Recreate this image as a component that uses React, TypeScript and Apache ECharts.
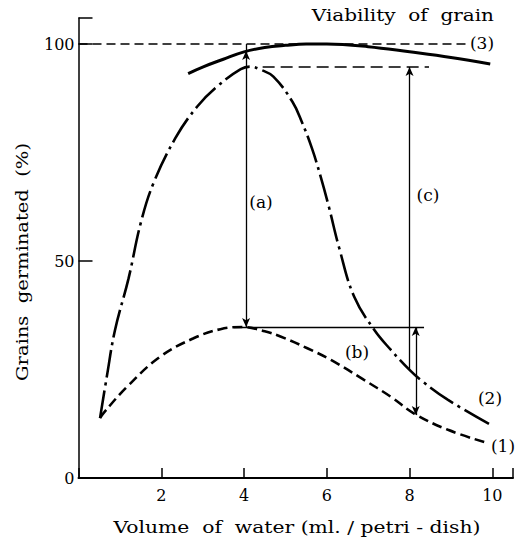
import React, { useEffect, useRef } from "react";
import * as echarts from "echarts";

// Curve (1): dashed
const curve1: [number, number][] = [
  [0.52, 13.8], [0.6, 14.9], [1.17, 21], [1.98, 28], [2.78, 32.2], [3.43, 34.3],
  [3.96, 34.8], [4.5, 33.8], [4.88, 32.6], [5.53, 29.9], [6.1, 27.2], [6.9, 22.6],
  [7.55, 18.7], [8.12, 14.8], [8.93, 11.1], [9.9, 8],
];
// Curve (2): dash-dot
const curve2: [number, number][] = [
  [0.52, 13.8], [0.69, 23.7], [0.88, 34], [1.21, 46], [1.5, 58.6], [1.81, 67.9],
  [2.34, 78.3], [2.87, 85.6], [3.35, 90.2], [3.92, 94.2], [4.16, 94.8], [4.4, 94.1],
  [4.71, 92.5], [5.17, 86.7], [5.4, 82], [5.64, 76], [5.85, 69.5], [6.05, 62.5],
  [6.3, 53], [6.66, 41.8], [7.15, 34.1], [7.55, 29.5], [8.0, 24.9], [8.32, 22.2],
  [8.93, 18], [9.93, 12.4],
];
// Curve (3): solid, viability of grain
const curve3: [number, number][] = [
  [2.65, 93.2], [3, 94.7], [3.5, 96.5], [4, 98.2], [4.5, 99.2], [5, 99.7],
  [5.5, 100], [6, 100], [7, 99.4], [8, 98.2], [9, 96.9], [9.95, 95.4],
];

const xTicks = [0, 2, 4, 6, 8, 10];
const yTicks = [0, 50, 100];

const FONT = "DejaVu Serif";

export default function App() {
  const ref = useRef<HTMLDivElement>(null);
  useEffect(() => {
    if (!ref.current) return;
    const chart = echarts.init(ref.current, null, { renderer: "svg" });
    const black = "#000";
    const seg = (a: [number, number], b: [number, number], s1: string, s2: string, type: any, width = 1.3) => [
      { coord: a, symbol: s1, lineStyle: { type, width, color: black } },
      { coord: b, symbol: s2 },
    ];
    const txt = (x: number, y: number, text: string, size: number, align = "center", sx = 1, extra: any = {}) => ({
      type: "text",
      x,
      y,
      scaleX: sx,
      ...extra,
      style: { text, font: `${size}px '${FONT}'`, fill: black, align, verticalAlign: "middle" },
    });
    chart.setOption({
      animation: false,
      grid: { left: 78.5, right: 12, top: 18, bottom: 68 },
      xAxis: {
        type: "value",
        min: 0,
        max: 10.5,
        interval: 2,
        splitLine: { show: false },
        axisLine: { lineStyle: { color: black, width: 2 } },
        axisTick: { inside: true, length: 10, lineStyle: { color: black, width: 1.5 } },
        axisLabel: {
          color: black,
          fontFamily: FONT,
          fontSize: 16,
          margin: 9,
          formatter: (v: number) => (xTicks.includes(v) && v !== 0 ? String(v) : ""),
        },
      },
      yAxis: {
        type: "value",
        min: 0,
        max: 106,
        interval: 50,
        splitLine: { show: false },
        axisLine: { lineStyle: { color: black, width: 1.5 } },
        axisTick: { inside: true, length: 14, lineStyle: { color: black, width: 1.5 } },
        axisLabel: {
          color: black,
          fontFamily: FONT,
          fontSize: 16,
          margin: 4,
          formatter: (v: number) => (yTicks.includes(v) ? String(v) : ""),
        },
      },
      series: [
        {
          type: "line",
          data: curve1,
          smooth: 0.4,
          symbol: "none",
          lineStyle: { color: black, width: 2.6, type: [10, 5] },
        },
        {
          type: "line",
          data: curve2,
          smooth: 0.4,
          symbol: "none",
          lineStyle: { color: black, width: 2.6, type: [28, 5, 3, 5] },
        },
        {
          type: "line",
          data: curve3,
          smooth: 0.4,
          symbol: "none",
          lineStyle: { color: black, width: 3 },
        },
        {
          type: "line",
          data: [],
          symbol: "none",
          markLine: {
            silent: true,
            symbolSize: [6, 9],
            label: { show: false },
            data: [
              seg([0, 100], [9.44, 100], "none", "none", [9, 5], 1.5),
              seg([4.45, 94.7], [8.47, 94.7], "none", "none", [12, 6], 1.5),
              seg([3.75, 34.8], [8.35, 34.8], "none", "none", "solid", 1.3),
              seg([4.05, 100], [4.05, 98.4], "none", "none", "solid", 1.3),
              seg([4.05, 98.4], [4.05, 34.8], "arrow", "arrow", "solid", 1.3),
              seg([8.0, 24.9], [8.0, 94.7], "none", "arrow", "solid", 1.3),
              seg([8.15, 34.8], [8.15, 14.5], "arrow", "arrow", "solid", 1.3),
            ],
          },
        },
      ],
      graphic: [
        txt(494, 15, "Viability  of  grain", 16, "right", 1.25),
        txt(482, 43, "(3)", 17),
        txt(490, 398, "(2)", 17),
        txt(503, 446, "(1)", 17),
        txt(261, 202, "(a)", 17),
        txt(357, 352, "(b)", 17),
        txt(428, 195, "(c)", 17),
        txt(297, 527, "Volume  of  water (ml. / petri - dish)", 16, "center", 1.27),
        txt(22, 262, "Grains  germinated  (%)", 16, "center", 1.22, { rotation: Math.PI / 2 }),
      ],
    });
    return () => chart.dispose();
  }, []);
  return <div ref={ref} style={{ position: "fixed", left: 0, top: 0, width: 525, height: 546, background: "#fff" }} />;
}
